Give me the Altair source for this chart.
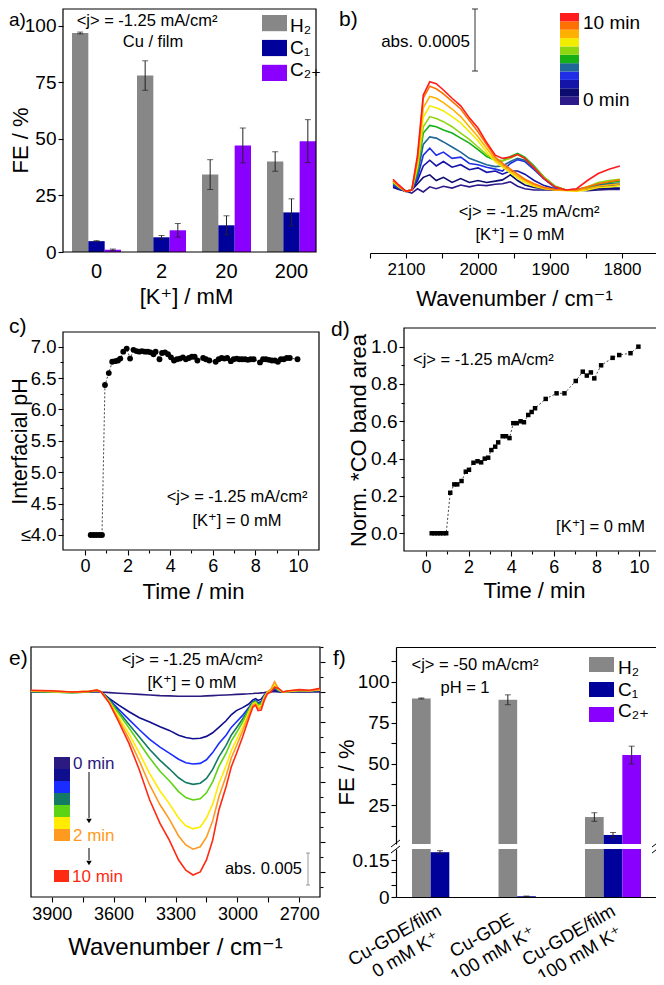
import altair as alt
import pandas as pd

FONT = "Liberation Sans, Arimo, Arial, DejaVu Sans, sans-serif"
W, H = 648, 969

# ------------------------------------------------------------------ data
SERIES = ["H₂", "C₁", "C₂₊"]
BAR_COLORS = ["#878787", "#00009b", "#8a00ff"]

# (a) FE vs [K+]
A_CONC = ["0", "2", "20", "200"]
A_H2 = [96.8, 78.0, 34.2, 40.0]
A_H2_ERR = [0.4, 6.5, 6.6, 4.3]
A_C1 = [4.8, 6.5, 11.8, 17.5]
A_C1_ERR = [0.2, 0.8, 4.2, 6.0]
A_C2 = [1.0, 9.6, 47.1, 49.0]
A_C2_ERR = [0.3, 3.0, 7.7, 9.5]

# (b) *CO spectra, absorbance in units of the 0.0005 scale bar
B_TIMES = [0, 1, 2, 3, 4, 5, 6, 7, 8, 9, 10]
B_COLORS = ["#2d1a8a", "#0b0b70", "#1414a8", "#1f2fe8", "#1f6796", "#16b016",
            "#8fd612", "#f2ec00", "#ffb000", "#ff7000", "#ff1c1c"]
B_WN = [2118, 2110, 2100, 2092, 2084, 2076, 2067, 2058, 2048, 2036, 2024, 2012, 2000, 1988,
        1976, 1966, 1955, 1945, 1935, 1922, 1908, 1893, 1878, 1863, 1848, 1833, 1818, 1803]
B_CURVES = [
    [0.04, 0.01, -0.02, -0.05, 0.02, -0.03, 0.05, 0.02, 0.06, 0.03, 0.08, 0.05, 0.08, 0.07,
     0.09, 0.1, 0.13, 0.06, 0.02, 0.0, 0.0, 0.0, 0.0, 0.0, -0.01, 0.0, 0.01, 0.01],
    [0.05, 0.02, -0.02, 0.0, 0.1, 0.2, 0.24, 0.15, 0.2, 0.12, 0.18, 0.12, 0.15, 0.12,
     0.14, 0.16, 0.24, 0.15, 0.08, 0.04, 0.02, 0.0, 0.0, 0.0, 0.0, 0.02, 0.03, 0.03],
    [0.06, 0.02, -0.02, 0.0, 0.15, 0.38, 0.47, 0.38, 0.45, 0.36, 0.4, 0.32, 0.35, 0.28,
     0.3, 0.25, 0.3, 0.3, 0.25, 0.15, 0.07, 0.02, 0.0, 0.0, 0.02, 0.05, 0.07, 0.08],
    [0.08, 0.03, -0.02, 0.0, 0.2, 0.55, 0.66, 0.55, 0.6, 0.5, 0.52, 0.42, 0.4, 0.36,
     0.33, 0.3, 0.42, 0.48, 0.45, 0.32, 0.17, 0.04, 0.0, 0.01, 0.04, 0.08, 0.1, 0.1],
    [0.1, 0.04, -0.02, 0.0, 0.25, 0.72, 0.84, 0.82, 0.76, 0.68, 0.6, 0.5, 0.45, 0.4,
     0.37, 0.38, 0.45, 0.5, 0.47, 0.34, 0.18, 0.05, 0.0, 0.0, 0.03, 0.07, 0.1, 0.11],
    [0.12, 0.05, -0.02, 0.0, 0.3, 0.9, 1.02, 1.0, 0.95, 0.9, 0.82, 0.74, 0.64, 0.53,
     0.47, 0.46, 0.53, 0.58, 0.52, 0.38, 0.2, 0.06, 0.0, 0.0, 0.04, 0.1, 0.12, 0.14],
    [0.14, 0.05, -0.02, 0.0, 0.35, 1.0, 1.16, 1.13, 1.08, 1.0, 0.9, 0.8, 0.68, 0.56,
     0.48, 0.46, 0.5, 0.56, 0.5, 0.36, 0.2, 0.06, 0.0, 0.0, 0.05, 0.12, 0.15, 0.17],
    [0.13, 0.05, -0.02, 0.0, 0.4, 1.15, 1.33, 1.3, 1.25, 1.16, 1.06, 0.92, 0.78, 0.6,
     0.45, 0.36, 0.27, 0.19, 0.12, 0.06, 0.02, 0.0, -0.01, -0.02, 0.0, 0.04, 0.05, 0.07],
    [0.14, 0.06, -0.02, 0.0, 0.45, 1.3, 1.48, 1.45, 1.38, 1.28, 1.16, 1.0, 0.84, 0.66,
     0.48, 0.39, 0.3, 0.22, 0.15, 0.08, 0.03, 0.0, 0.0, -0.01, 0.02, 0.06, 0.08, 0.1],
    [0.15, 0.06, -0.02, 0.0, 0.5, 1.45, 1.64, 1.6, 1.52, 1.4, 1.28, 1.1, 0.92, 0.72,
     0.52, 0.42, 0.33, 0.25, 0.17, 0.1, 0.04, 0.01, 0.0, 0.0, 0.05, 0.1, 0.13, 0.16],
    [0.17, 0.08, -0.02, 0.0, 0.55, 1.5, 1.71, 1.68, 1.58, 1.45, 1.33, 1.14, 0.98, 0.75,
     0.55, 0.5, 0.52, 0.56, 0.5, 0.35, 0.18, 0.05, 0.0, 0.02, 0.15, 0.26, 0.33, 0.38],
]

# (c) interfacial pH vs time
C_T = [0.27, 0.40, 0.53, 0.67, 0.80, 0.94, 1.12, 1.28, 1.42, 1.55, 1.66, 1.80, 1.96, 2.12,
       2.28, 2.42, 2.55, 2.68, 2.82, 2.95, 3.08, 3.22, 3.32, 3.50, 3.62, 3.76, 3.90, 4.04,
       4.18, 4.32, 4.46, 4.60, 4.74, 4.88, 5.02, 5.15, 5.28, 5.55, 5.68, 5.84, 6.14, 6.28,
       6.42, 6.55, 6.68, 6.85, 6.98, 7.12, 7.25, 7.38, 7.52, 7.65, 7.78, 7.92, 8.22, 8.36,
       8.50, 8.64, 8.78, 8.92, 9.06, 9.20, 9.34, 9.48, 9.62, 9.98]
C_PH = [4.0, 4.0, 4.0, 4.0, 4.0, 6.39, 6.58, 6.76, 6.77, 6.78, 6.81, 6.92, 6.97, 6.81,
        6.95, 6.93, 6.92, 6.93, 6.92, 6.92, 6.91, 6.88, 6.92, 6.80, 6.90, 6.91, 6.88, 6.83,
        6.78, 6.80, 6.81, 6.83, 6.80, 6.82, 6.84, 6.84, 6.78, 6.82, 6.80, 6.78, 6.76, 6.80,
        6.82, 6.81, 6.82, 6.77, 6.80, 6.81, 6.80, 6.80, 6.80, 6.79, 6.80, 6.80, 6.75, 6.80,
        6.80, 6.79, 6.78, 6.78, 6.76, 6.80, 6.80, 6.82, 6.82, 6.80]

# (d) normalised *CO band area vs time
D_T = [0.27, 0.40, 0.54, 0.67, 0.81, 0.95, 1.14, 1.33, 1.47, 1.67, 1.87, 2.02, 2.23, 2.42,
       2.59, 2.76, 2.92, 3.07, 3.25, 3.39, 3.60, 3.76, 3.92, 4.10, 4.26, 4.44, 4.60, 4.80,
       4.96, 5.12, 5.62, 6.13, 6.50, 7.03, 7.36, 7.55, 7.74, 7.90, 8.22, 8.76, 9.07, 9.60, 9.97]
D_V = [0.0, 0.0, 0.0, 0.0, 0.0, 0.0, 0.217, 0.262, 0.262, 0.28, 0.33, 0.34, 0.378, 0.386,
       0.38, 0.40, 0.405, 0.446, 0.464, 0.487, 0.52, 0.52, 0.51, 0.59, 0.59, 0.60, 0.595, 0.634,
       0.65, 0.67, 0.72, 0.75, 0.75, 0.816, 0.866, 0.845, 0.862, 0.83, 0.90, 0.94, 0.955, 0.965, 1.0]

# (e) O-H region spectra, absorbance x 1000
E_STEPS = ["0 min", "step 1", "step 2", "step 3", "step 4", "step 5", "2 min", "10 min"]
E_COLORS = ["#2b1a80", "#0e0e8e", "#1a2cff", "#137a63", "#5cd414", "#ffec00", "#ff9a20", "#ff2a12"]
E_WN = [4000, 3900, 3800, 3720, 3680, 3660, 3620, 3575, 3525, 3475, 3425, 3375, 3330, 3285,
        3250, 3215, 3180, 3150, 3120, 3090, 3055, 3030, 3005, 2975, 2945, 2925, 2912, 2900,
        2885, 2870, 2855, 2838, 2820, 2800, 2780, 2750, 2700, 2650, 2600]
E_CURVES = [
    [0.0, 0.0, 0.0, 0.0, 0.1, 0.0, -0.1, -0.2, -0.3, -0.4, -0.5, -0.6, -0.65, -0.7, -0.7, -0.7,
     -0.7, -0.65, -0.6, -0.55, -0.5, -0.45, -0.4, -0.35, -0.3, -0.25, -0.2, -0.2, -0.15, -0.1,
     0.0, 0.0, 0.1, 0.0, 0.0, 0.0, 0.0, 0.0, 0.0],
    [0.1, 0.0, 0.0, 0.0, 0.1, 0.0, -1.1, -2.2, -3.3, -4.3, -5.0, -5.8, -6.4, -7.2, -7.6, -7.8,
     -7.7, -7.4, -6.8, -5.9, -4.8, -3.8, -3.1, -2.6, -2.0, -1.3, -1.1, -1.4, -1.2, -0.5,
     0.0, 0.2, 0.3, 0.1, 0.0, 0.1, 0.1, 0.1, 0.2],
    [0.1, 0.0, 0.0, 0.0, 0.2, 0.0, -1.3, -2.9, -4.6, -6.3, -7.9, -9.2, -10.2, -11.2, -11.8, -12.0,
     -11.9, -11.3, -10.1, -8.6, -7.2, -5.9, -5.0, -3.9, -2.6, -1.6, -1.4, -1.8, -1.6, -0.6,
     0.0, 0.2, 0.5, 0.2, 0.0, 0.1, 0.2, 0.1, 0.3],
    [0.1, 0.0, -0.1, 0.0, 0.2, 0.0, -1.4, -3.3, -5.4, -7.5, -9.6, -11.4, -12.8, -14.3, -15.1, -15.4,
     -15.2, -14.4, -12.9, -10.8, -8.9, -7.2, -6.0, -4.5, -2.8, -1.7, -1.5, -2.0, -1.8, -0.7,
     0.0, 0.3, 0.7, 0.2, 0.0, 0.1, 0.2, 0.2, 0.3],
    [0.1, 0.0, -0.1, 0.0, 0.2, 0.0, -1.5, -3.6, -6.0, -8.5, -11.0, -13.2, -14.8, -16.6, -17.6, -18.0,
     -17.8, -16.8, -15.0, -12.4, -10.2, -8.2, -6.8, -5.0, -3.0, -1.8, -1.6, -2.2, -2.0, -0.8,
     0.0, 0.3, 0.9, 0.3, 0.0, 0.1, 0.2, 0.2, 0.3],
    [0.2, 0.1, 0.0, 0.1, 0.3, 0.0, -1.7, -4.2, -7.0, -10.2, -13.6, -16.5, -18.6, -21.0, -22.3, -22.8,
     -22.5, -21.0, -18.7, -15.3, -12.3, -9.8, -8.0, -5.8, -3.4, -2.0, -1.8, -2.5, -2.3, -0.9,
     0.0, 0.4, 1.2, 0.4, 0.0, 0.1, 0.3, 0.2, 0.4],
    [0.2, 0.1, 0.0, 0.1, 0.3, 0.0, -1.8, -4.6, -7.8, -11.5, -15.5, -18.8, -21.2, -24.0, -25.5, -26.2,
     -25.8, -24.2, -21.5, -17.5, -14.0, -11.0, -9.0, -6.5, -3.8, -2.2, -2.0, -2.8, -2.6, -1.0,
     0.0, 0.5, 1.7, 0.5, 0.0, 0.2, 0.3, 0.2, 0.4],
    [0.3, 0.2, 0.0, 0.1, 0.3, 0.0, -1.9, -5.0, -8.6, -13.0, -18.0, -21.9, -24.7, -28.0, -29.7, -30.5,
     -30.0, -28.0, -24.7, -19.7, -15.8, -12.5, -10.3, -7.5, -4.4, -2.5, -2.2, -3.1, -3.0, -1.4,
     -0.3, 0.0, 0.8, 0.6, 0.0, 0.2, 0.4, 0.3, 0.6],
]

# (f) FE at -50 mA/cm2, pH 1
F_CATS = ["Cu-GDE/film\n0 mM K⁺", "Cu-GDE\n100 mM K⁺", "Cu-GDE/film\n100 mM K⁺"]
F_H2 = [89.8, 89.0, 17.7]
F_H2_ERR = [0.3, 3.0, 2.6]
F_C1 = [0.182, 0.003, 6.8]
F_C1_ERR = [0.006, 0.001, 1.5]
F_C2 = [0.0, 0.0, 55.4]
F_C2_ERR = [0.0, 0.0, 5.4]


# ------------------------------------------------------------------ helpers
def cx(v):
    return v - 8


def cy(v):
    return v - 8


def lin(dom, px, **kw):
    return alt.Scale(domain=list(dom), range=[px[0] - 8, px[1] - 8], nice=False, zero=False, **kw)


def band(dom, px, pi, po):
    return alt.Scale(domain=list(dom), range=[px[0] - 8, px[1] - 8], paddingInner=pi, paddingOuter=po)


def ax_bottom(yp, **kw):
    return alt.Axis(orient="bottom", offset=cy(yp) - H, grid=False, **kw)


def ax_top(yp, **kw):
    return alt.Axis(orient="top", offset=-cy(yp), grid=False, **kw)


def ax_left(xp, **kw):
    return alt.Axis(orient="left", offset=-cx(xp), grid=False, **kw)


def ax_right(xp, **kw):
    return alt.Axis(orient="right", offset=cx(xp) - W, grid=False, **kw)


MINOR = dict(labels=False, domain=False, tickSize=3, title=None)


def one():
    return pd.DataFrame([{"k": 0}])


def text(s, x, y, size=16, align="center", baseline="middle", color="black"):
    return alt.Chart(pd.DataFrame({"t": [s]})).mark_text(
        fontSize=size, align=align, baseline=baseline, color=color
    ).encode(text="t:N", x=alt.value(cx(x)), y=alt.value(cy(y)))


def seg(x1, y1, x2, y2, color="black", width=1.0):
    return alt.Chart(one()).mark_rule(color=color, strokeWidth=width).encode(
        x=alt.value(cx(x1)), x2=alt.value(cx(x2)), y=alt.value(cy(y1)), y2=alt.value(cy(y2)))


def box(xdom, xpx, ydom, ypx, xaxis=None, yaxis=None):
    df = pd.DataFrame([{"x0": xdom[0], "x1": xdom[1], "y0": ydom[0], "y1": ydom[1]}])
    return alt.Chart(df).mark_rect(fillOpacity=0, stroke="black", strokeWidth=1.2).encode(
        x=alt.X("x0:Q", scale=lin(xdom, xpx), axis=xaxis), x2="x1:Q",
        y=alt.Y("y0:Q", scale=lin(ydom, ypx), axis=yaxis), y2="y1:Q")


def bar_table(cats, vals, errs):
    rows = []
    for s, vs, es in zip(SERIES, vals, errs):
        for c, v, e in zip(cats, vs, es):
            rows.append({"cat": c, "series": s, "value": v, "lo": v - e, "hi": v + e})
    return pd.DataFrame(rows)


def ytitle(x_page, x_axis, y_page, txt, size):
    return dict(title=txt, titleFontSize=size, titleAngle=270, titleAlign="center",
                titleBaseline="middle", titleX=x_page - x_axis, titleY=cy(y_page))


def xtitle(x_page, y_page, y_axis, txt, size):
    return dict(title=txt, titleFontSize=size, titleAngle=0, titleAlign="center",
                titleBaseline="middle", titleX=cx(x_page), titleY=y_page - y_axis)


layers = []
off3 = alt.XOffset("series:N", scale=alt.Scale(domain=SERIES, paddingInner=0, paddingOuter=0))
bar_color = alt.Color("series:N", scale=alt.Scale(domain=SERIES, range=BAR_COLORS), legend=None)

# ------------------------------------------------------------------ panel a
a_df = bar_table(A_CONC, [A_H2, A_C1, A_C2], [A_H2_ERR, A_C1_ERR, A_C2_ERR])
A_YD = [0, 107.4]
A_YP = (252, 9)


def a_x(axis=None):
    return alt.X("cat:N", scale=band(A_CONC, (72, 316), 0.246, 0), axis=axis)


layers.append(alt.Chart(a_df).mark_bar().encode(
    x=a_x(ax_bottom(252, ticks=False, tickSize=0, domain=False, labelAngle=0, labelFontSize=20,
                    labelPadding=9, **xtitle(186, 296, 252, "[K⁺] / mM", 22))),
    xOffset=off3,
    y=alt.Y("value:Q", scale=lin(A_YD, A_YP),
            axis=ax_left(63, values=[0, 25, 50, 75, 100], tickSize=5, labelFontSize=19,
                         labelPadding=2, domain=False, **ytitle(20, 63, 140, "FE / %", 22))),
    y2=alt.datum(0),
    color=bar_color))
layers.append(alt.Chart(a_df).mark_rule(color="#222", strokeWidth=1).encode(
    x=a_x(), xOffset=off3, y=alt.Y("lo:Q", scale=lin(A_YD, A_YP), axis=None), y2="hi:Q"))
for f in ["lo", "hi"]:
    layers.append(alt.Chart(a_df).mark_tick(color="#222", thickness=1, size=6).encode(
        x=a_x(), xOffset=off3, y=alt.Y(f + ":Q", scale=lin(A_YD, A_YP), axis=None)))
layers.append(box([0, 1], (63, 316), [0, 1], (252, 9)))
leg_a = pd.DataFrame({"s": SERIES})
layers.append(alt.Chart(leg_a).mark_rect().encode(
    x=alt.value(cx(262)), x2=alt.value(cx(287)),
    y=alt.Y("s:N", scale=band(SERIES, (15, 81), 0.35, 0), axis=None),
    color=alt.Color("s:N", scale=alt.Scale(domain=SERIES, range=BAR_COLORS), legend=None)))
layers.append(alt.Chart(leg_a).mark_text(fontSize=19, align="left", baseline="middle").encode(
    x=alt.value(cx(290)), y=alt.Y("s:N", scale=band(SERIES, (15, 81), 0.35, 0), axis=None),
    text="s:N"))
layers.append(text("a)", 9, 20, 19, align="left"))
layers.append(text("<j> = -1.25 mA/cm²", 147, 21, 16.5))
layers.append(text("Cu / film", 153, 42, 16.5))

# ------------------------------------------------------------------ panel b
b_rows = []
for t, curve in zip(B_TIMES, B_CURVES):
    for wn, v in zip(B_WN, curve):
        b_rows.append({"wn": wn, "a": v, "t": t})
b_df = pd.DataFrame(b_rows)
B_XD, B_XP = [2150, 1750], (370, 658)
B_YD, B_YP = [-0.995, 2.86], (253, 9)
layers.append(alt.Chart(b_df).mark_line(strokeWidth=1.6).encode(
    x=alt.X("wn:Q", scale=lin(B_XD, B_XP),
            axis=ax_bottom(253, values=[2150, 2100, 2050, 2000, 1950, 1900, 1850, 1800, 1750],
                           labelExpr="(datum.value % 100 == 0 && datum.value <= 2100 && datum.value >= 1800) ? format(datum.value, 'd') : ''",
                           tickSize=5, labelFontSize=17, labelPadding=3,
                           **xtitle(514, 298, 253, "Wavenumber / cm⁻¹", 22))),
    y=alt.Y("a:Q", scale=lin(B_YD, B_YP),
            axis=ax_right(657, values=[0, 1, 2], labels=False, tickSize=5, title=None)),
    color=alt.Color("t:O", scale=alt.Scale(domain=B_TIMES, range=B_COLORS), legend=None)))
leg_b = pd.DataFrame({"t": B_TIMES})
layers.append(alt.Chart(leg_b).mark_rect().encode(
    x=alt.value(cx(560)), x2=alt.value(cx(579)),
    y=alt.Y("t:O", scale=band(list(reversed(B_TIMES)), (13, 105), 0, 0), axis=None),
    color=alt.Color("t:O", scale=alt.Scale(domain=B_TIMES, range=B_COLORS), legend=None)))
layers.append(text("10 min", 583, 23, 19, align="left"))
layers.append(text("0 min", 583, 100, 19, align="left"))
layers.append(seg(475, 9, 475, 71, "#333"))
layers.append(seg(472, 9, 478, 9, "#333"))
layers.append(seg(472, 71, 478, 71, "#333"))
layers.append(text("abs. 0.0005", 470, 42, 17, align="right"))
layers.append(text("b)", 339, 20, 21, align="left"))
layers.append(text("<j> = -1.25 mA/cm²", 529, 212, 16.5))
layers.append(text("[K⁺] = 0 mM", 520, 235, 16.5))

# ------------------------------------------------------------------ panel c
c_df = pd.DataFrame({"t": C_T, "ph": C_PH})
C_XD, C_XP = [-1.03, 10.99], (63, 319)
C_YD, C_YP = [3.761, 7.234], (550, 332)
layers.append(box(C_XD, C_XP, C_YD, C_YP,
                  xaxis=ax_bottom(550, values=[1, 3, 5, 7, 9], **MINOR),
                  yaxis=ax_left(63, values=[4.25, 4.75, 5.25, 5.75, 6.25, 6.75], **MINOR)))
layers.append(alt.Chart(c_df).mark_line(strokeDash=[2, 2], color="#444", strokeWidth=1).encode(
    x=alt.X("t:Q", scale=lin(C_XD, C_XP),
            axis=ax_bottom(550, values=[0, 2, 4, 6, 8, 10], tickSize=5, labelFontSize=18,
                           labelPadding=2, domain=False, **xtitle(193, 591, 550, "Time / min", 22))),
    y=alt.Y("ph:Q", scale=lin(C_YD, C_YP),
            axis=ax_left(63, values=[4.0, 4.5, 5.0, 5.5, 6.0, 6.5, 7.0], tickSize=5, labelFontSize=18.5,
                         labelPadding=2, domain=False,
                         labelExpr="datum.value == 4 ? '≤4.0' : format(datum.value, '.1f')",
                         **ytitle(20, 63, 441, "Interfacial pH", 21.5)))))
layers.append(alt.Chart(c_df).mark_circle(size=34, color="black", opacity=1).encode(
    x=alt.X("t:Q", scale=lin(C_XD, C_XP), axis=None),
    y=alt.Y("ph:Q", scale=lin(C_YD, C_YP), axis=None)))
layers.append(text("c)", 9, 327, 21, align="left"))
layers.append(text("<j> = -1.25 mA/cm²", 237, 497, 16.5))
layers.append(text("[K⁺] = 0 mM", 237, 521, 16.5))

# ------------------------------------------------------------------ panel d
d_df = pd.DataFrame({"t": D_T, "v": D_V})
D_XD, D_XP = [-1.03, 10.89], (404, 658)
D_YD, D_YP = [-0.095, 1.1], (551, 328)
layers.append(box(D_XD, D_XP, D_YD, D_YP,
                  xaxis=ax_bottom(551, values=[1, 3, 5, 7, 9], **MINOR),
                  yaxis=ax_left(404, values=[0.1, 0.3, 0.5, 0.7, 0.9], **MINOR)))
layers.append(alt.Chart(d_df).mark_line(strokeDash=[2, 2], color="#444", strokeWidth=1).encode(
    x=alt.X("t:Q", scale=lin(D_XD, D_XP),
            axis=ax_bottom(551, values=[0, 2, 4, 6, 8, 10], tickSize=5, labelFontSize=18,
                           labelPadding=2, domain=False, **xtitle(534, 590, 551, "Time / min", 22))),
    y=alt.Y("v:Q", scale=lin(D_YD, D_YP),
            axis=ax_left(404, values=[0.0, 0.2, 0.4, 0.6, 0.8, 1.0], tickSize=5, labelFontSize=19,
                         labelPadding=2, domain=False, format=".1f",
                         **ytitle(358, 404, 440, "Norm. *CO band area", 22)))))
layers.append(alt.Chart(d_df).mark_square(size=20, color="black", opacity=1).encode(
    x=alt.X("t:Q", scale=lin(D_XD, D_XP), axis=None),
    y=alt.Y("v:Q", scale=lin(D_YD, D_YP), axis=None)))
layers.append(text("d)", 331, 330, 21, align="left"))
layers.append(text("<j> = -1.25 mA/cm²", 413, 360, 16.5, align="left"))
layers.append(text("[K⁺] = 0 mM", 645, 527, 16.5, align="right"))

# ------------------------------------------------------------------ panel e
e_rows = []
for s, curve in zip(E_STEPS, E_CURVES):
    for wn, v in zip(E_WN, curve):
        e_rows.append({"wn": wn, "a": v, "s": s})
e_df = pd.DataFrame(e_rows)
E_XD, E_XP = [4000, 2600], (31, 320)
E_YD, E_YP = [-34.17, 7.5], (897, 647)
layers.append(box(E_XD, E_XP, E_YD, E_YP,
                  xaxis=ax_bottom(897, values=[3750, 3450, 3150, 2850], labels=False, domain=False,
                                  tickSize=5, title=None),
                  yaxis=ax_right(320, values=[-32.5, -27.5, -22.5, -17.5, -12.5, -7.5, -2.5, 2.5, 7.5],
                                 **MINOR)))
layers.append(alt.Chart(e_df).mark_line(strokeWidth=1.6).encode(
    x=alt.X("wn:Q", scale=lin(E_XD, E_XP),
            axis=ax_bottom(897, values=[3900, 3600, 3300, 3000, 2700], tickSize=5, labelFontSize=18,
                           labelPadding=3, domain=False, format="d",
                           **xtitle(175, 947, 897, "Wavenumber / cm⁻¹", 24))),
    y=alt.Y("a:Q", scale=lin(E_YD, E_YP),
            axis=ax_right(320, values=[-30, -25, -20, -15, -10, -5, 0, 5], labels=False, domain=False,
                          tickSize=5, title=None)),
    color=alt.Color("s:N", scale=alt.Scale(domain=E_STEPS, range=E_COLORS), legend=None)))
leg_e = pd.DataFrame({"s": E_STEPS[:7]})
layers.append(alt.Chart(leg_e).mark_rect().encode(
    x=alt.value(cx(54)), x2=alt.value(cx(70)),
    y=alt.Y("s:N", scale=band(E_STEPS[:7], (757, 841), 0, 0), axis=None),
    color=alt.Color("s:N", scale=alt.Scale(domain=E_STEPS, range=E_COLORS), legend=None)))
layers.append(alt.Chart(one()).mark_rect(color=E_COLORS[7]).encode(
    x=alt.value(cx(54)), x2=alt.value(cx(69)), y=alt.value(cy(870)), y2=alt.value(cy(882))))
layers.append(text("0 min", 73, 764, 17, align="left", color=E_COLORS[0]))
layers.append(text("2 min", 73, 836, 17, align="left", color=E_COLORS[6]))
layers.append(text("10 min", 72, 877, 17, align="left", color=E_COLORS[7]))
layers.append(seg(89, 772, 89, 818))
layers.append(seg(89, 848, 89, 860))
for yy in [821, 863]:
    layers.append(alt.Chart(one()).mark_point(shape="triangle-down", filled=True, size=30,
                                             color="black", opacity=1).encode(
        x=alt.value(cx(89)), y=alt.value(cy(yy))))
layers.append(seg(308, 853, 308, 885, "#999"))
layers.append(seg(306, 853, 310, 853, "#999"))
layers.append(seg(306, 885, 310, 885, "#999"))
layers.append(text("abs. 0.005", 302, 869, 16.5, align="right"))
layers.append(text("e)", 9, 659, 21, align="left"))
layers.append(text("<j> = -1.25 mA/cm²", 192, 660, 16.5))
layers.append(text("[K⁺] = 0 mM", 192, 683, 16.5))

# ------------------------------------------------------------------ panel f
f_df = bar_table(F_CATS, [F_H2, F_C1, F_C2], [F_H2_ERR, F_C1_ERR, F_C2_ERR])
F_XP = (396, 657)
F_UD, F_UP = [1.3, 121.1], (844, 647)
F_LD, F_LP = [0, 0.195], (897, 849)


def f_x(axis=None):
    return alt.X("cat:N", scale=band(F_CATS, F_XP, 0.353, 0.185), axis=axis)


up = f_df[f_df["value"] > F_UD[0]]
low = f_df[f_df["value"] > 0]
low_err = f_df[(f_df["value"] > 0) & (f_df["value"] < F_LD[1])]
UPV = [12.5, 25, 37.5, 50, 62.5, 75, 87.5, 100, 112.5]
LOWV = [0, 0.05, 0.1, 0.15]
layers.append(alt.Chart(up).mark_bar().encode(
    x=f_x(ax_bottom(897, labels=False, ticks=False, tickSize=0, title=None)),
    xOffset=off3,
    y=alt.Y("value:Q", scale=lin(F_UD, F_UP, clamp=True),
            axis=ax_left(396, values=UPV, tickSize=5, labelFontSize=19, labelPadding=2,
                         labelExpr="datum.value % 25 == 0 ? datum.label : ''",
                         **ytitle(346, 396, 772, "FE / %", 22))),
    y2=alt.datum(F_UD[0]),
    color=bar_color))
layers.append(alt.Chart(low).mark_bar().encode(
    x=f_x(ax_top(647, labels=False, ticks=False, tickSize=0, title=None)),
    xOffset=off3,
    y=alt.Y("value:Q", scale=lin(F_LD, F_LP, clamp=True),
            axis=ax_left(396, values=LOWV, tickSize=5, labelFontSize=19, labelPadding=2,
                         labelExpr="datum.value == 0 ? '0' : (datum.value == 0.15 ? '0.15' : '')",
                         title=None)),
    y2=alt.datum(0),
    color=bar_color))
layers.append(alt.Chart(up).mark_rule(color="#222", strokeWidth=1).encode(
    x=f_x(), xOffset=off3,
    y=alt.Y("lo:Q", scale=lin(F_UD, F_UP),
            axis=ax_right(657, values=UPV, labels=False, tickSize=5, title=None)),
    y2="hi:Q"))
for f in ["lo", "hi"]:
    layers.append(alt.Chart(up).mark_tick(color="#222", thickness=1, size=6).encode(
        x=f_x(), xOffset=off3, y=alt.Y(f + ":Q", scale=lin(F_UD, F_UP), axis=None)))
layers.append(alt.Chart(low_err).mark_rule(color="#222", strokeWidth=1).encode(
    x=f_x(), xOffset=off3,
    y=alt.Y("lo:Q", scale=lin(F_LD, F_LP),
            axis=ax_right(657, values=LOWV, labels=False, tickSize=5, title=None)),
    y2="hi:Q"))
for f in ["lo", "hi"]:
    layers.append(alt.Chart(low_err).mark_tick(color="#222", thickness=1, size=6).encode(
        x=f_x(), xOffset=off3, y=alt.Y(f + ":Q", scale=lin(F_LD, F_LP), axis=None)))
# axis break marks
for xb in [396, 657]:
    layers.append(seg(xb - 5, 847, xb + 4, 840))
    layers.append(seg(xb - 5, 853, xb + 4, 846))
# category labels
layers.append(alt.Chart(pd.DataFrame({"cat": F_CATS})).mark_text(
    fontSize=18.5, angle=330, align="center", baseline="top", dx=-57, lineBreak="\n",
    lineHeight=22).encode(x=f_x(), y=alt.value(cy(899)), text="cat:N"))
leg_f = pd.DataFrame({"s": SERIES})
layers.append(alt.Chart(leg_f).mark_rect().encode(
    x=alt.value(cx(589)), x2=alt.value(cx(614)),
    y=alt.Y("s:N", scale=band(SERIES, (657, 722), 0.4, 0), axis=None),
    color=alt.Color("s:N", scale=alt.Scale(domain=SERIES, range=BAR_COLORS), legend=None)))
layers.append(alt.Chart(leg_f).mark_text(fontSize=19, align="left", baseline="middle").encode(
    x=alt.value(cx(618)), y=alt.Y("s:N", scale=band(SERIES, (657, 722), 0.4, 0), axis=None),
    text="s:N"))
layers.append(text("f)", 333, 659, 21, align="left"))
layers.append(text("<j> = -50 mA/cm²", 475, 665, 16.5))
layers.append(text("pH = 1", 465, 688, 16.5))

# ------------------------------------------------------------------ assemble
chart = alt.layer(*layers).resolve_scale(
    x="independent", y="independent", color="independent", xOffset="independent"
).resolve_axis(x="independent", y="independent").properties(
    width=W, height=H, autosize=alt.AutoSizeParams(type="none"), padding=0
).configure_view(stroke=None).configure_axis(
    labelFont=FONT, titleFont=FONT, labelColor="black", titleColor="black", tickColor="black",
    domainColor="black", titleFontWeight="normal", domainWidth=1.2, tickWidth=1.1
).configure_text(font=FONT)

chart.save("out.html", embed_options={"renderer": "svg", "actions": False})
